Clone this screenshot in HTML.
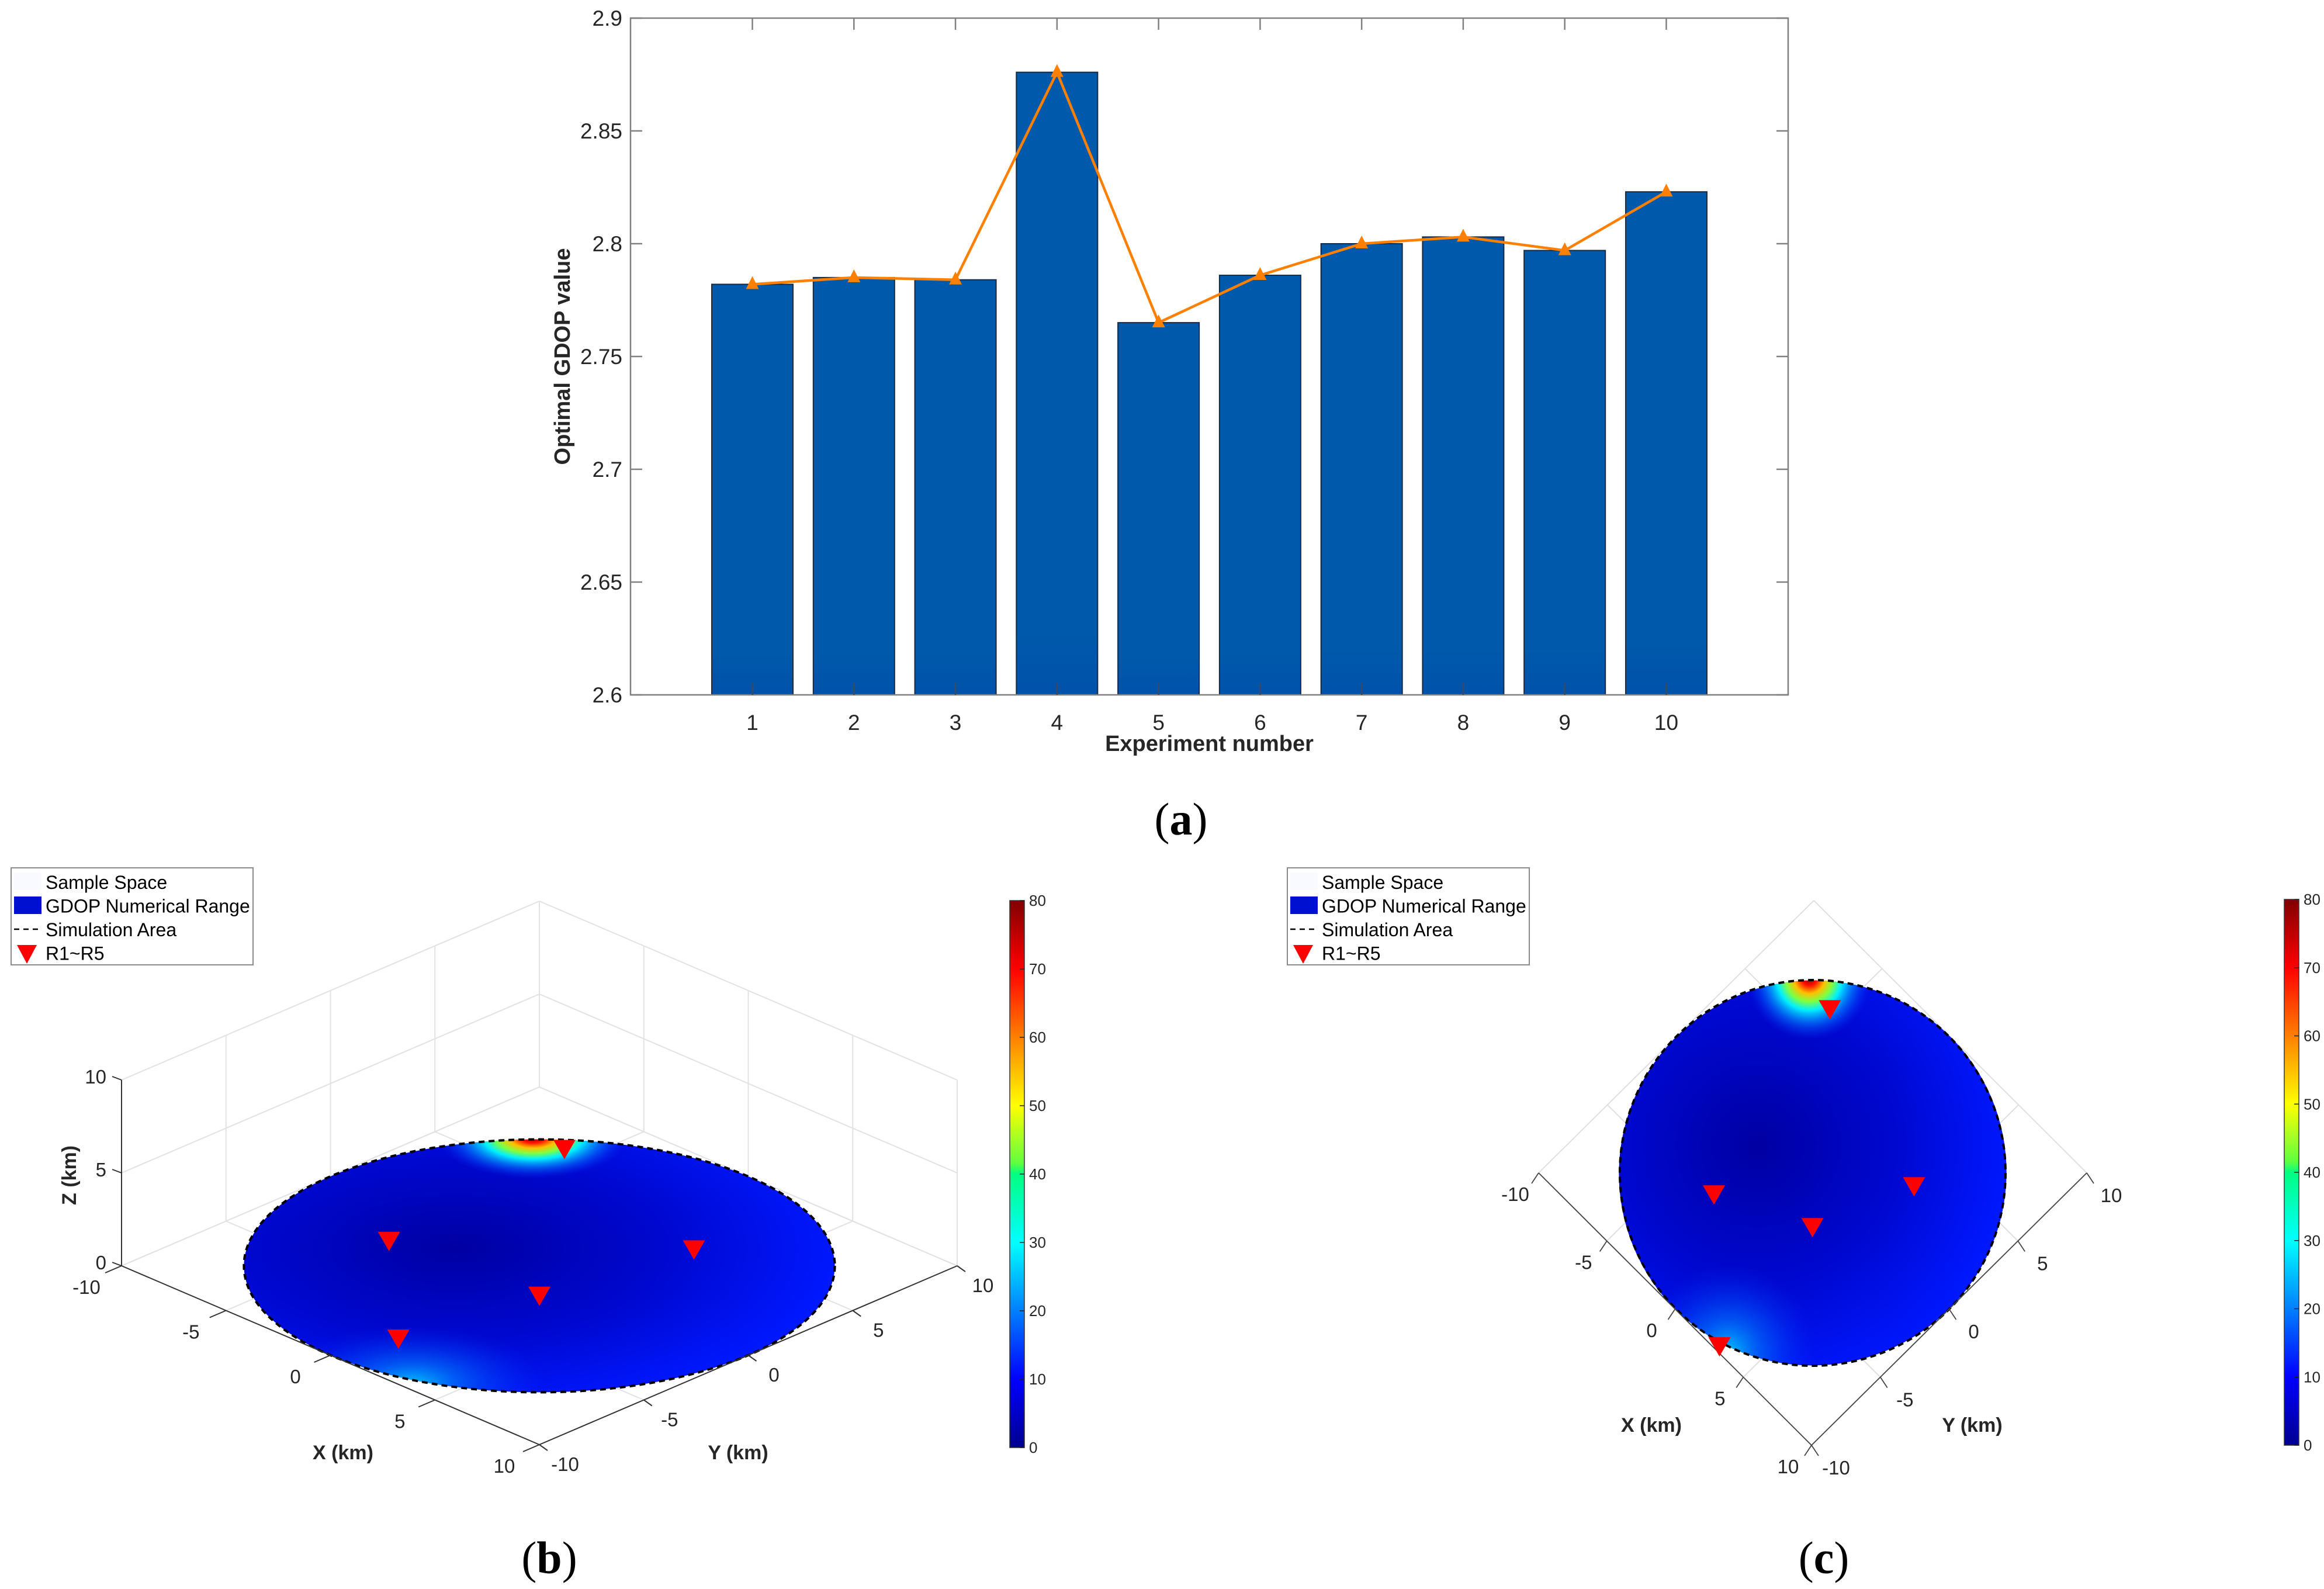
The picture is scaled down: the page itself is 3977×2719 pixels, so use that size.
<!DOCTYPE html>
<html><head><meta charset="utf-8">
<style>
html,body{margin:0;padding:0;background:#fff;}
svg{display:block;}
text{font-family:"Liberation Sans",Arial,sans-serif;fill:#262626;}
</style></head>
<body>
<svg id="fig" xmlns="http://www.w3.org/2000/svg" width="3977" height="2719" viewBox="0 0 3977 2719">
<defs>
<linearGradient id="jet" x1="0" y1="1" x2="0" y2="0">
<stop offset="0" stop-color="#00008f"/><stop offset="0.125" stop-color="#0000ff"/>
<stop offset="0.375" stop-color="#00ffff"/><stop offset="0.5" stop-color="#00ff80"/>
<stop offset="0.52" stop-color="#60ff40"/><stop offset="0.625" stop-color="#ffff00"/>
<stop offset="0.875" stop-color="#ff0000"/><stop offset="1" stop-color="#800000"/>
</linearGradient>
<linearGradient id="barGrad" x1="0" y1="0" x2="0" y2="1">
<stop offset="0" stop-color="#0059ab"/><stop offset="0.9" stop-color="#0059ab"/><stop offset="1" stop-color="#0052aa"/>
</linearGradient>
<radialGradient id="baseG" gradientUnits="userSpaceOnUse" cx="-3" cy="-1" r="13">
<stop offset="0" stop-color="#0000a2"/><stop offset="0.55" stop-color="#0008d0"/><stop offset="1" stop-color="#0018ff"/>
</radialGradient>
<radialGradient id="cyanG" gradientUnits="userSpaceOnUse" cx="3.5" cy="-9.6" r="4.5">
<stop offset="0" stop-color="#00d0ff" stop-opacity="0.9"/><stop offset="0.35" stop-color="#0090ff" stop-opacity="0.55"/><stop offset="1" stop-color="#0030ff" stop-opacity="0"/>
</radialGradient>
<radialGradient id="hotG" gradientUnits="userSpaceOnUse" cx="-7.3" cy="7.0" r="3.2">
<stop offset="0" stop-color="#900000"/><stop offset="0.12" stop-color="#ff1000"/><stop offset="0.25" stop-color="#ffc000"/>
<stop offset="0.38" stop-color="#80ff40"/><stop offset="0.52" stop-color="#00f0ff"/><stop offset="0.75" stop-color="#0080ff" stop-opacity="0.6"/>
<stop offset="1" stop-color="#0030ff" stop-opacity="0"/>
</radialGradient>
</defs>
<g id="chartA"></g>
<g id="chartB"></g>
<g id="chartC"></g>
</svg>
<script>
const categories = [1,2,3,4,5,6,7,8,9,10];
const barValues = [2.782,2.785,2.784,2.876,2.765,2.786,2.800,2.803,2.797,2.823];
const lineValues = [2.782,2.785,2.784,2.876,2.765,2.786,2.800,2.803,2.797,2.823];
const yTicks = [2.6,2.65,2.7,2.75,2.8,2.85,2.9];
const yTickLabels = ['2.6','2.65','2.7','2.75','2.8','2.85','2.9'];
const recvX = [-5.4,-2.8,4.2,2.0,3.0];
const recvY = [6.6,-4.4,3.2,-2.0,-9.75];
const recvZ = [0.5,2.1,1.35,0.3,2.2];
const axisTicks3d = [-10,-5,0,5,10];
const zTicks = [0,5,10];
const cbTicks = [0,10,20,30,40,50,60,70,80];

const NS='http://www.w3.org/2000/svg';
function el(tag, attrs, parent, txt){
  const e=document.createElementNS(NS,tag);
  for(const k in attrs) e.setAttribute(k,attrs[k]);
  if(txt!==undefined) e.textContent=txt;
  parent.appendChild(e); return e;
}

// ---------- Chart A ----------
(function(){
  const g=document.getElementById('chartA');
  const L=1079,R=3060,T=31,B=1189;
  const y0=2.6,y1=2.9;
  const yS=v=>B-(v-y0)/(y1-y0)*(B-T);
  const step=(R-L)/11.4;
  const xS=i=>L+(i+1.2)*step; // i = index (category - 1)
  const bw=0.8*step;
  categories.forEach((c,i)=>{
    const r=el('rect',{x:xS(i)-bw/2, y:yS(barValues[i]), width:bw, height:B-yS(barValues[i]), fill:'url(#barGrad)', stroke:'#1a2a40','stroke-width':2},g);
    
    
  });
  const box=el('rect',{x:L,y:T,width:R-L,height:B-T,fill:'none',stroke:'#808080','stroke-width':2.5},g);
   
  yTicks.forEach((v,i)=>{
    const y=yS(v);
    el('line',{x1:L,y1:y,x2:L+20,y2:y,stroke:'#808080','stroke-width':2.5},g);
    el('line',{x1:R,y1:y,x2:R-20,y2:y,stroke:'#808080','stroke-width':2.5},g);
    const t=el('text',{x:L-14,y:y+13,'text-anchor':'end','font-size':37},g,yTickLabels[i]);
     
  });
  categories.forEach((c,i)=>{
    const x=xS(i);
    el('line',{x1:x,y1:B,x2:x,y2:B-20,stroke:'#3a4a60','stroke-width':2.5},g);
    el('line',{x1:x,y1:T,x2:x,y2:T+20,stroke:'#808080','stroke-width':2.5},g);
    const t=el('text',{x:x,y:B+60,'text-anchor':'middle','font-size':37},g,String(c));
     
  });
  const pts=lineValues.map((v,i)=>xS(i)+','+yS(v)).join(' ');
  const pl=el('polyline',{points:pts,fill:'none',stroke:'#ff8000','stroke-width':4.5},g);
   
  lineValues.forEach((v,i)=>{
    const x=xS(i),y=yS(v);
    const m=el('polygon',{points:`${x},${y-14} ${x-11},${y+8} ${x+11},${y+8}`,fill:'#ff8000'},g);
     
  });
  const xl=el('text',{x:(L+R)/2,y:1285,'text-anchor':'middle','font-size':38,'font-weight':'bold'},g,'Experiment number');
   
  const yl=el('text',{x:0,y:0,'text-anchor':'middle','font-size':38,'font-weight':'bold',transform:`translate(975,${(T+B)/2}) rotate(-90)`},g,'Optimal GDOP value');
   
  const cap=el('text',{x:2021,y:1428,'text-anchor':'middle','font-size':78,style:'font-family:"Liberation Serif",serif;fill:#000'},g,'');
  cap.innerHTML='(<tspan font-weight="bold">a</tspan>)';
   
})();

// ---------- shared 3D helpers ----------
function legend(g,x,y){
  const lg=el('g',{},g);
   
  el('rect',{x:x,y:y,width:414,height:166,fill:'#fff',stroke:'#8a8a8a','stroke-width':2},lg);
  el('rect',{x:x+5,y:y+8,width:47,height:30,fill:'#f8faff'},lg);
  el('rect',{x:x+5,y:y+49,width:47,height:30,fill:'#0010d0'},lg);
  el('line',{x1:x+5,y1:y+105,x2:x+52,y2:y+105,stroke:'#000','stroke-width':2.5,'stroke-dasharray':'9,7'},lg);
  el('polygon',{points:`${x+10},${y+132} ${x+44},${y+132} ${x+27},${y+164}`,fill:'#ff0000'},lg);
  const names=['Sample Space','GDOP Numerical Range','Simulation Area','R1~R5'];
  names.forEach((n,i)=>{
    const t=el('text',{x:x+59,y:y+36+i*40.5,'font-size':32,style:'fill:#000'},lg,n);
     
  });
}
function colorbar(g,x,top,bot){
  const cb=el('g',{},g);
   
  el('rect',{x:x,y:top,width:25,height:bot-top,fill:'url(#jet)',stroke:'#333','stroke-width':1.5},cb);
  cbTicks.forEach(v=>{
    const y=bot-(v/80)*(bot-top);
    el('line',{x1:x+17,y1:y,x2:x+25,y2:y,stroke:'#222','stroke-width':1.5},cb);
    const t=el('text',{x:x+33,y:y+9,'font-size':26},cb,String(v));
     
  });
}
function disk(g,m,cx,cy,rx,ry){
  const d=el('g',{},g);
   
  const inner=el('g',{transform:`matrix(${m.join(',')})`},d);
  el('circle',{cx:0,cy:0,r:10,fill:'url(#baseG)'},inner);
  el('circle',{cx:0,cy:0,r:10,fill:'url(#cyanG)'},inner);
  el('circle',{cx:0,cy:0,r:10,fill:'url(#hotG)'},inner);
  const b=el('ellipse',{cx:cx,cy:cy,rx:rx,ry:ry,fill:'none',stroke:'#000','stroke-width':4,'stroke-dasharray':'10,7'},d);
   
}
function tri(g,x,y){
  const p=el('polygon',{points:`${x-19},${y-16} ${x+19},${y-16} ${x},${y+17}`,fill:'#ff0000'},g);
   
}

// ---------- Chart B (3D) ----------
(function(){
  const g=document.getElementById('chartB');
  const C=[923,2166], ex=[35.75,15.3], ey=[35.75,-15.3], zs=31.8;
  const P=(x,y,z)=>[C[0]+x*ex[0]+y*ey[0], C[1]+x*ex[1]+y*ey[1]-(z||0)*zs];
  const line=(a,b,st,w)=>el('line',{x1:a[0],y1:a[1],x2:b[0],y2:b[1],stroke:st,'stroke-width':w},g);
  const grid='#e2e2e2';
  axisTicks3d.forEach(v=>{
    line(P(v,-10,0),P(v,10,0),grid,2);
    line(P(-10,v,0),P(10,v,0),grid,2);
    line(P(-10,v,0),P(-10,v,10),grid,2);
    line(P(v,10,0),P(v,10,10),grid,2);
  });
  zTicks.forEach(z=>{
    line(P(-10,-10,z),P(-10,10,z),grid,2);
    line(P(-10,10,z),P(10,10,z),grid,2);
  });
  disk(g,[ex[0],ex[1],ey[0],ey[1],C[0],C[1]],C[0],C[1],505.6,216.4);
  line(P(-10,-10,0),P(10,-10,0),'#333',2);
  line(P(10,-10,0),P(10,10,0),'#333',2);
  line(P(-10,-10,0),P(-10,-10,10),'#333',2);
  axisTicks3d.forEach(v=>{
    const a=P(v,-10,0); line(a,[a[0]-28,a[1]+12],'#333',2);
    const t=el('text',{x:a[0]-60,y:a[1]+48,'text-anchor':'middle','font-size':33},g,String(v));
     
    const b=P(10,v,0); line(b,[b[0]+14,b[1]+10],'#333',2);
    const t2=el('text',{x:b[0]+44,y:b[1]+45,'text-anchor':'middle','font-size':33},g,String(v));
     
  });
  zTicks.forEach(z=>{
    const a=P(-10,-10,z); line(a,[a[0]-16,a[1]-6],'#333',2);
    const t=el('text',{x:a[0]-26,y:a[1]+6,'text-anchor':'end','font-size':33},g,String(z));
     
  });
  recvX.forEach((x,i)=>{const p=P(x,recvY[i],recvZ[i]); tri(g,p[0],p[1]);});
  const xl=el('text',{x:587,y:2497,'text-anchor':'middle','font-size':34,'font-weight':'bold'},g,'X (km)');
   
  const yl=el('text',{x:1263,y:2497,'text-anchor':'middle','font-size':34,'font-weight':'bold'},g,'Y (km)');
   
  const zl=el('text',{x:0,y:0,'text-anchor':'middle','font-size':34,'font-weight':'bold',transform:'translate(130,2011) rotate(-90)'},g,'Z (km)');
   
  legend(g,19,1485);
  colorbar(g,1728,1541,2477);
  const cap=el('text',{x:940,y:2692,'text-anchor':'middle','font-size':78,style:'font-family:"Liberation Serif",serif;fill:#000'},g,'');
  cap.innerHTML='(<tspan font-weight="bold">b</tspan>)';
   
})();

// ---------- Chart C (top view) ----------
(function(){
  const g=document.getElementById('chartC');
  const C=[3102,2007], ex=[23.35,23.3], ey=[23.55,-23.3];
  const P=(x,y)=>[C[0]+x*ex[0]+y*ey[0], C[1]+x*ex[1]+y*ey[1]];
  const line=(a,b,st,w)=>el('line',{x1:a[0],y1:a[1],x2:b[0],y2:b[1],stroke:st,'stroke-width':w},g);
  const grid='#e0e0e0';
  axisTicks3d.forEach(v=>{
    line(P(v,-10),P(v,10),grid,2);
    line(P(-10,v),P(10,v),grid,2);
  });
  disk(g,[ex[0],ex[1],ey[0],ey[1],C[0],C[1]],C[0],C[1],330,330);
  line(P(-10,-10),P(10,-10),'#444',1.8);
  line(P(10,-10),P(10,10),'#444',1.8);
  axisTicks3d.forEach(v=>{
    const a=P(v,-10); line(a,[a[0]-12,a[1]+18],'#444',1.8);
    const t=el('text',{x:a[0]-40,y:a[1]+48,'text-anchor':'middle','font-size':33},g,String(v));
     
    const b=P(10,v); line(b,[b[0]+12,b[1]+18],'#444',1.8);
    const t2=el('text',{x:b[0]+42,y:b[1]+50,'text-anchor':'middle','font-size':33},g,String(v));
     
  });
  recvX.forEach((x,i)=>{const p=P(x,recvY[i]); tri(g,p[0],p[1]);});
  const xl=el('text',{x:2826,y:2450,'text-anchor':'middle','font-size':34,'font-weight':'bold'},g,'X (km)');
   
  const yl=el('text',{x:3375,y:2450,'text-anchor':'middle','font-size':34,'font-weight':'bold'},g,'Y (km)');
   
  legend(g,2203,1485);
  colorbar(g,3909,1539,2473);
  const cap=el('text',{x:3121,y:2692,'text-anchor':'middle','font-size':78,style:'font-family:"Liberation Serif",serif;fill:#000'},g,'');
  cap.innerHTML='(<tspan font-weight="bold">c</tspan>)';
   
})();
</script>
</body></html>
